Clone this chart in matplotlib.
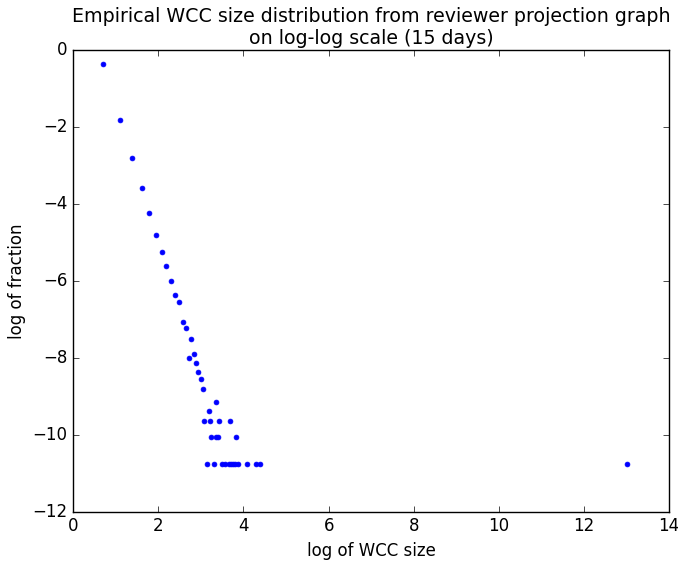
import numpy as np
import matplotlib
matplotlib.use('Agg')
import matplotlib.pyplot as plt

# log of WCC size
log_size = [0.69, 1.10, 1.38, 1.61, 1.79, 1.95, 2.08, 2.19, 2.30, 2.40, 2.49,
            2.57, 2.64, 2.71, 2.77, 2.83, 2.89, 2.94, 3.00, 3.05,
            3.18, 3.35,
            3.08, 3.22, 3.43, 3.69,
            3.24, 3.36, 3.40, 3.82,
            3.14, 3.30, 3.49, 3.57, 3.65, 3.71, 3.75, 3.79, 3.88, 4.08, 4.30, 4.39,
            13.0]
# log of fraction
log_frac = [-0.36, -1.81, -2.81, -3.59, -4.24, -4.81, -5.24, -5.62, -6.01, -6.36, -6.54,
            -7.06, -7.22, -7.99, -7.51, -7.89, -8.14, -8.36, -8.56, -8.81,
            -9.38, -9.15,
            -9.65, -9.65, -9.65, -9.65,
            -10.06, -10.06, -10.06, -10.06,
            -10.77, -10.77, -10.77, -10.77, -10.77, -10.77, -10.77, -10.77, -10.77, -10.77, -10.77, -10.77,
            -10.77]

plt.style.use('classic')
fig = plt.figure(figsize=(6.78, 5.61), dpi=100, facecolor='white')
ax = fig.add_axes([0.108, 0.088, 0.879, 0.822])
ax.plot(log_size, log_frac, 'b.', markersize=7)
ax.set_xlim(0, 14)
ax.set_ylim(-12, 0)
ax.set_xlabel('log of WCC size')
ax.set_ylabel('log of fraction')
ax.set_title('Empirical WCC size distribution from reviewer projection graph\non log-log scale (15 days)',
             fontsize=13.7)
fig.savefig('out.png', dpi=100, facecolor='white')
